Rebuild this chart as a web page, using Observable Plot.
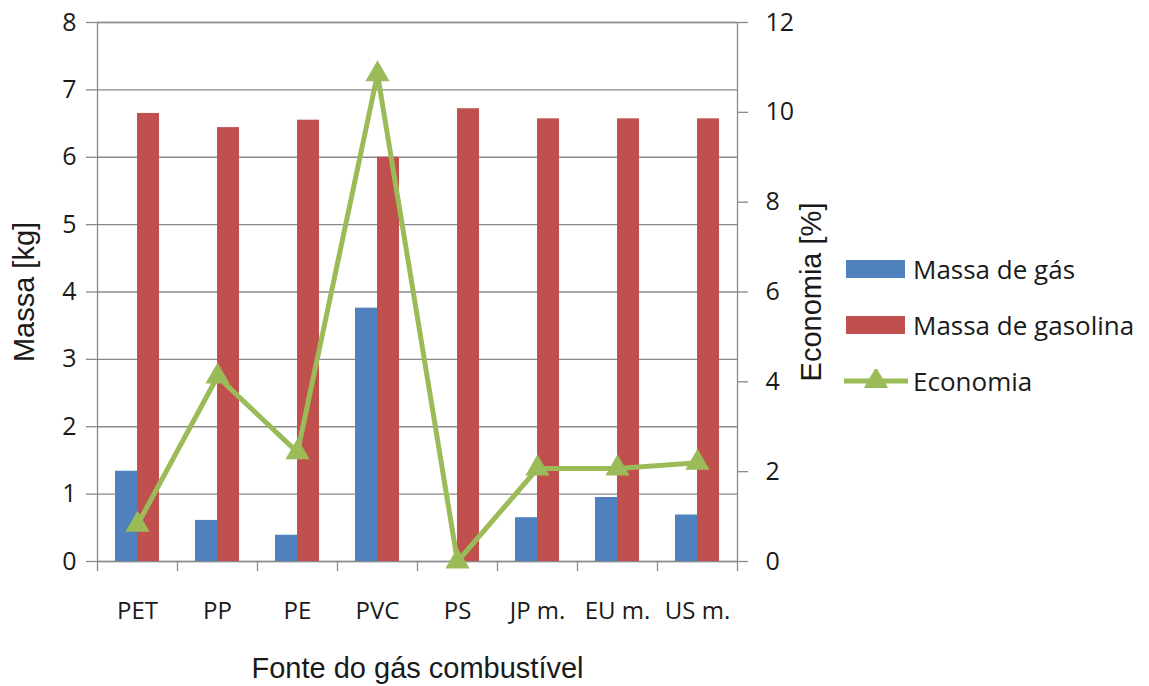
<!DOCTYPE html>
<html>
<head>
<meta charset="utf-8">
<script src="https://cdn.jsdelivr.net/npm/d3@7"></script>
<script src="https://cdn.jsdelivr.net/npm/@observablehq/plot@0.6"></script>
<style>
  html, body { margin: 0; padding: 0; background: #fff; }
  #wrap { position: relative; width: 1149px; height: 686px; }
  #legend { position: absolute; left: 844px; top: 241px; font-family: "Open Sans", sans-serif; font-size: 26px; color: #1a1a1a; }
  .row { display: flex; align-items: center; height: 56px; }
  .row svg { margin-right: 5px; }
</style>
</head>
<body>
<div id="wrap"><div id="legend"></div></div>
<script>
const categories = ["PET", "PP", "PE", "PVC", "PS", "JP m.", "EU m.", "US m."];
const massaGas = [1.34, 0.61, 0.39, 3.76, 0, 0.65, 0.95, 0.69];
const massaGasolina = [6.65, 6.44, 6.55, 6.0, 6.72, 6.57, 6.57, 6.57];
const economia = [0.82, 4.12, 2.43, 10.85, 0, 2.07, 2.07, 2.2];
const leftTicks = [0, 1, 2, 3, 4, 5, 6, 7, 8];
const rightTicks = [0, 2, 4, 6, 8, 10, 12];
const seriesNames = ["Massa de gás", "Massa de gasolina", "Economia"];
const colors = ["#4F81BD", "#C0504D", "#9BBB59"];

const W = 1149, H = 686;
const mL = 97, mR = 412, mT = 22, mB = 125;
const bw = (W - mL - mR) / categories.length;
const k = 8 / 12; // right axis -> left axis units
const tickLenData = 10 / ((H - mT - mB) / 8);

const rows = categories.map((c, i) => ({cat: c, gas: massaGas[i], gasolina: massaGasolina[i], eco: economia[i] * k}));

const gridColor = "#8a8a8a";
const font = "'Open Sans', sans-serif";

const chart = Plot.plot({
  width: W, height: H,
  marginLeft: mL, marginRight: mR, marginTop: mT, marginBottom: mB,
  style: {fontFamily: font, fontSize: "25px", color: "#1a1a1a", background: "transparent"},
  x: {type: "band", domain: categories, padding: 0},
  y: {domain: [0, 8]},
  marks: [
    Plot.gridY(leftTicks, {stroke: gridColor, strokeOpacity: 1, strokeWidth: 1.3}),
    Plot.frame({stroke: gridColor, strokeWidth: 1.3}),
    Plot.barY(rows, {x: "cat", y: "gas", fill: colors[0], insetLeft: 18, insetRight: bw - 40}),
    Plot.barY(rows, {x: "cat", y: "gasolina", fill: colors[1], insetLeft: 40, insetRight: bw - 62}),
    Plot.ruleX(categories, {x: d => d, dx: -bw / 2, y1: 0, y2: -tickLenData, stroke: gridColor, strokeWidth: 1.3}),
    Plot.ruleX(categories.slice(-1), {x: d => d, dx: bw / 2, y1: 0, y2: -tickLenData, stroke: gridColor, strokeWidth: 1.3}),
    Plot.line(rows, {x: "cat", y: "eco", stroke: colors[2], strokeWidth: 5, strokeLinejoin: "miter"}),
    Plot.dot(rows, {x: "cat", y: "eco", symbol: "triangle", r: 9, fill: colors[2], stroke: "none"}),
    Plot.axisY(leftTicks, {anchor: "left", tickSize: 11, tickPadding: 10, stroke: gridColor, strokeWidth: 1.3,
      tickFormat: d => String(d),
      label: "Massa [kg]", labelAnchor: "center", labelArrow: "none", labelOffset: 84,
      fontSize: 25}),
    Plot.axisY(rightTicks.map(v => v * k), {anchor: "right", tickSize: 10, tickPadding: 18, stroke: gridColor, strokeWidth: 1.3,
      tickFormat: d => String(Math.round(d / k)),
      label: "Economia [%]", labelAnchor: "center", labelArrow: "none", labelOffset: 83,
      fontSize: 25}),
    Plot.axisX(categories, {anchor: "bottom", tickSize: 0, tickPadding: 40,
      label: "Fonte do gás combustível", labelAnchor: "center", labelArrow: "none", labelOffset: 116,
      fontSize: 24})
  ]
});
document.getElementById("wrap").prepend(chart);

// axis titles in an Arial-like face
chart.querySelectorAll("g[aria-label='y-axis label'] text, g[aria-label='x-axis label'] text").forEach(t => {
  t.setAttribute("font-family", "'Liberation Sans', Arial, sans-serif");
  t.setAttribute("font-size", "29");
});

// legend
const legend = d3.select("#legend");
seriesNames.forEach((name, i) => {
  const row = legend.append("div").attr("class", "row");
  const svg = row.append("svg").attr("width", 64).attr("height", 24);
  if (i < 2) {
    svg.append("rect").attr("x", 2).attr("y", 3).attr("width", 59).attr("height", 18).attr("fill", colors[i]);
  } else {
    svg.append("line").attr("x1", 0).attr("x2", 64).attr("y1", 12).attr("y2", 12).attr("stroke", colors[2]).attr("stroke-width", 5);
    svg.append("path").attr("d", d3.symbol(d3.symbolTriangle, 9 * 9 * Math.PI)()).attr("transform", "translate(32,12)").attr("fill", colors[2]);
  }
  row.append("span").text(name);
});
</script>
</body>
</html>
